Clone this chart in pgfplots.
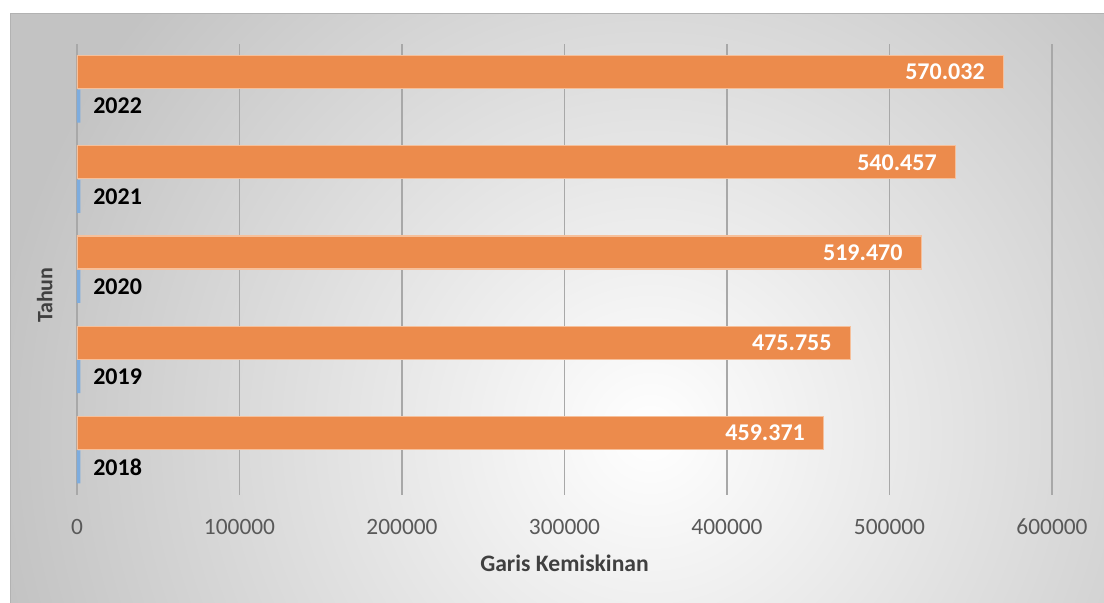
\documentclass[border=0pt]{standalone}
\usepackage{pgfplots}
\pgfplotsset{compat=1.18}
\usepackage{fontspec}
\setmainfont{Carlito}

\definecolor{barorange}{RGB}{236,139,76}
\definecolor{baredge}{RGB}{246,192,155}
\definecolor{barblue}{RGB}{125,172,222}
\definecolor{gridgray}{RGB}{168,168,168}
\definecolor{ticktext}{RGB}{89,89,89}
\definecolor{titletext}{RGB}{64,64,64}
\definecolor{bgouter}{RGB}{195,195,195}
\pgfdeclareradialshading{bgshade}{\pgfpoint{0bp}{0bp}}{color(0bp)=(white); color(25bp)=(bgouter); color(50bp)=(bgouter)}

\begin{document}
\begin{tikzpicture}
\useasboundingbox (0,0) rectangle (552pt,301.5pt);
% chart area background (units: 1 = one pixel of the reference)
\begin{scope}[x=0.5pt,y=0.5pt]
  \fill[white] (0,0) rectangle (1104,603);
  \begin{scope}
    \clip (10,0) rectangle (1104,589);
    \fill[bgouter] (10,0) rectangle (1104,589);
    \shade[shading=bgshade] (650,170) circle (660);
  \end{scope}
  \draw[black!30, line width=0.5pt] (10,0) -- (10,589) -- (1104,589);
\end{scope}

\begin{axis}[
  at={(38.5pt,54pt)}, anchor=south west,
  scale only axis, width=487.5pt, height=225.5pt,
  xmin=0, xmax=600000, ymin=-0.5, ymax=4.5,
  xbar, bar width=16.5pt,
  axis line style={draw=none},
  major tick length=0pt,
  ytick=\empty,
  xtick={0,100000,200000,300000,400000,500000,600000},
  xmajorgrids,
  grid style={gridgray, line width=0.7pt},
  scaled x ticks=false,
  xticklabel={\pgfmathprintnumber[fixed, precision=0, 1000 sep={}, assume math mode=true]{\tick}},
  xticklabel style={anchor=center, yshift=-16pt, text=ticktext,
    font=\fontsize{11.7pt}{14pt}\selectfont},
  xlabel={Garis Kemiskinan},
  xlabel style={at={(axis description cs:0.5,-0.151)}, anchor=center,
    text=titletext, font=\bfseries\fontsize{11.8pt}{14pt}\selectfont},
  ylabel={Tahun},
  ylabel style={at={(axis description cs:-0.033,0.443)}, anchor=center,
    text=titletext, font=\bfseries\fontsize{11pt}{13pt}\selectfont},
  nodes near coords={\pgfplotspointmeta},
  point meta=explicit symbolic,
  every node near coord/.append style={inner sep=0pt,
    font=\bfseries\fontsize{12pt}{14pt}\selectfont},
]
% Garis Kemiskinan
\addplot[fill=barorange, draw=baredge, line width=0.6pt, bar shift=8.5pt,
  nodes near coords style={anchor=east, xshift=-9pt, text=white}]
  coordinates {
(459371,0) [459.371]
(475755,1) [475.755]
(519470,2) [519.470]
(540457,3) [540.457]
(570032,4) [570.032]
  };
% Tahun
\addplot[fill=barblue, draw=none, bar shift=-8.5pt,
  nodes near coords style={anchor=west, xshift=6.3pt, text=black}]
  coordinates {
(2018,0) [2018]
(2019,1) [2019]
(2020,2) [2020]
(2021,3) [2021]
(2022,4) [2022]
  };
\end{axis}
\end{tikzpicture}
\end{document}
